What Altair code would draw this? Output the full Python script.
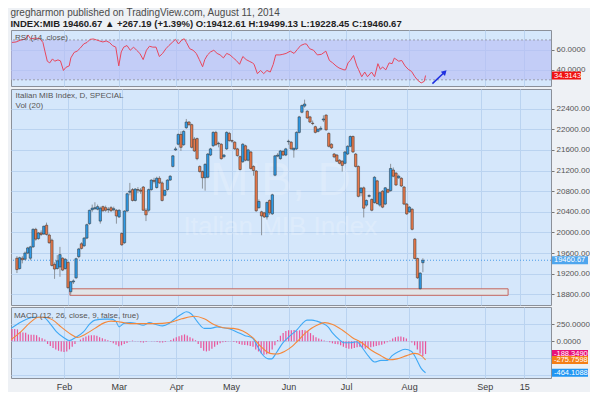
import altair as alt
import pandas as pd

# ---------------- data ----------------
opens = [
19500,19300,19500,19480,19600,19500,19720,20060,19880,19990,
19970,20140,19950,19850,19380,19300,19330,19500,19300,19420,
18850,19040,19120,19530,19780,19740,19890,20170,20440,20460,
20450,20220,20500,20480,20440,20480,20440,20430,20300,19980,
19800,20415,20780,20830,20620,20830,20820,20880,20430,20430,
20830,21010,20870,21050,20960,20720,20830,21015,21280,21600,
21710,21900,21700,22030,22140,22090,21810,21820,21280,21180,
21060,21070,21500,21680,21940,21720,21710,21470,21620,21920,
21780,21750,21620,21470,21370,21680,21400,21560,21280,21190,
20480,20400,20380,20300,20620,20360,21110,21480,21430,21570,
21500,21760,21750,21600,21620,21940,22330,22450,22350,22240,
22120,22050,21960,22000,22180,22275,21920,21710,21520,21500,
21400,21380,21340,21520,21670,21860,21520,21280,20770,20865,
20530,20700,20640,20580,21000,20530,20800,20550,20830,20810,
21210,21150,21060,21050,20880,20550,20400,20450,19870,19495,
18910,19412.61]
highs = [
19540,19530,19540,19630,19720,19740,20080,20090,20010,20040,
20130,20190,19980,19880,19420,19560,19720,19520,19500,19440,
19060,19090,19510,19700,19810,19910,20170,20440,20540,20585,
20540,20500,20520,20520,20490,20510,20500,20450,20450,20000,
20430,20770,20960,20860,20860,20880,20860,20900,20470,20850,
21030,21060,21080,21090,20990,20830,21030,21110,21500,21660,
21920,21960,21980,22200,22160,22110,21850,21840,21300,21200,
21340,21540,21640,21960,21970,21760,21730,21520,21960,21950,
21800,21770,21640,21490,21730,21700,21620,21580,21300,21210,
20640,20420,20400,20600,20640,20750,21500,21540,21600,21600,
21640,21800,21770,21650,21960,22260,22480,22575,22370,22260,
22170,22070,22020,22060,22270,22290,21940,21730,21540,21520,
21420,21400,21580,21690,21880,21880,21540,21300,20880,20890,
20640,20740,20660,21090,21020,20790,20820,20880,20850,21330,
21260,21170,21120,21070,20900,20570,20510,20470,19890,19510,
19230,19499.13]
lows = [
19213,19280,19400,19460,19580,19460,19700,19840,19860,19930,
19950,19940,19780,19340,19100,19280,19140,19250,19280,18900,
18790,19000,19100,19500,19670,19720,19870,20150,20400,20440,
20430,20170,20400,20400,20380,20400,20410,20170,20280,19740,
19780,20400,20720,20600,20600,20760,20750,20420,20220,20400,
20810,20950,20850,20940,20600,20700,20810,21000,21260,21580,
21690,21580,21680,22010,22060,21630,21560,21400,21160,20850,
20810,21050,21480,21660,21680,21650,21410,21440,21600,21760,
21740,21600,21470,21200,21350,21380,21380,21220,21100,20400,
20460,19945,20280,20250,20340,20340,21090,21460,21410,21480,
21480,21700,21600,21450,21600,21920,22310,22420,22200,22120,
22080,21920,21940,21970,22140,21970,21650,21620,21440,21370,
21320,21180,21320,21500,21650,21540,21260,20680,20700,20290,
20500,20680,20410,20560,20540,20500,20470,20530,20760,20790,
21070,20900,21040,20880,20530,20340,20380,20040,19480,19100,
18890,19228.45]
closes = [
19280,19510,19470,19600,19700,19720,20060,19870,19990,19960,
20120,19960,19800,19360,19290,19450,19570,19270,19480,18930,
19045,19060,19490,19680,19690,19890,20150,20430,20470,20480,
20500,20470,20420,20430,20450,20420,20460,20320,20430,19760,
20415,20750,20800,20620,20840,20820,20800,20430,20340,20830,
21015,20990,21050,20960,20620,20815,21015,21090,21485,21620,
21900,21650,21960,22140,22090,21650,21580,21430,21180,21060,
21320,21520,21620,21940,21700,21730,21430,21500,21940,21780,
21770,21620,21490,21220,21710,21400,21600,21240,21200,20420,
20600,20320,20300,20580,20380,20730,21485,21500,21580,21500,
21620,21770,21620,21630,21940,22240,22460,22490,22220,22140,
22110,21940,22000,22020,22200,21990,21670,21640,21465,21380,
21340,21300,21560,21670,21860,21560,21280,20700,20860,20470,
20620,20715,20430,21070,20560,20770,20490,20865,20780,21240,
21090,20920,21090,20900,20550,20360,20490,20060,19495,19120,
19210,19460.67]

rsi_pts = [(0,67.5),(1.5,68),(3.3,70),(5,71),(5.9,75),(6.8,71),(8.6,72),(10.3,71),
(11.3,67.5),(12.1,58),(12.9,48.7),(13.8,47),(14.8,51),(15.6,48.7),(16.8,50),(17.7,49),
(18.8,39.4),(19.7,42.5),(20.9,44),(21.5,52),(22.7,57.5),(23.8,58.8),(25,62),(26.2,66),
(27.4,67.5),(28.5,70.6),(29.7,71),(30.9,70),(32,69),(33.2,68),(34.4,69),(35.6,67.5),
(36.7,64.4),(37.9,62.8),(39,44),(39.9,58),(40.8,62.8),(42,64.4),(43.2,59.7),(44.4,62.8),
(45.5,59.7),(46.7,56.5),(47.9,50.3),(49.1,59.7),(50.2,63.7),(51.4,62.8),(52.6,62.8),
(53.8,53.4),(55,56.5),(56.2,61.2),(57.3,64.4),(58.5,67.5),(59.7,70.6),(60.8,66),(62,70),
(62.9,71.2),(63.7,67.5),(64.9,61.2),(66.1,59.7),(67.3,56.5),(68.4,50.3),(69.6,43.1),
(70.4,50.3),(71.4,55),(72.5,58),(73.7,59.7),(74.9,56.5),(76,55),(77.2,52),(78.4,56.5),
(79.6,55),(80.8,52),(81.9,49.4),(83.1,45.6),(84.3,53.4),(85.5,50.3),(86.6,48.7),(87.8,47),
(88.4,45.6),(89.6,36.2),(90.8,39.4),(91.9,36.2),(93.1,39.4),(94.3,37.8),(95.4,45.6),
(96.3,55),(97.8,55),(98.9,55.6),(100.1,56.5),(101.6,58.8),(103,56.5),(104.2,60.5),
(105.4,64.4),(106.8,66),(107.5,66),(108.7,61.2),(110.1,59.7),(111.5,55),(113,55.6),
(114.6,58.8),(115.9,49.4),(117.1,47),(118.3,44),(119.4,41.9),(121.2,40),(121.8,40),
(122.7,47),(123.5,49.4),(124.7,54.4),(125.9,44),(126.5,40.5),(127.7,33.1),(128.8,37.8),
(129.8,33.1),(131.3,37.8),(132.4,33.1),(133.6,46.2),(134.5,40.5),(135.3,42.9),(136.5,40),
(137.7,47),(138.8,46.2),(139.6,51.8),(141.2,48.7),(142.3,49.4),(143.5,44),(144.7,40.5),
(145.9,38.4),(147.1,33.1),(148.2,29.4),(149.4,26.9),(150.5,28.4),(151,34.3143)]

macd_pts = [(-0.3,189),(3.3,282),(8,353),(11.5,353),(13.9,260),(16.2,141),(19.1,48),
(20.9,10),(23.2,56),(26.2,141),(28.5,260),(30.3,311),(33.8,325),(36.2,325),(37.9,296),
(39.1,212),(40.8,260),(43.2,274),(45.5,260),(47.9,235),(50.2,274),(52.6,246),(55,226),
(57.3,260),(59.7,339),(62,401),(63.7,433),(65.5,401),(67.8,282),(70.2,189),(72.5,189),
(74.9,212),(77.2,198),(79.6,179),(81.9,141),(84.9,85),(87.8,48),(89.6,-73),(91.3,-188),
(93.7,-259),(94.8,-259),(96.6,-165),(98.9,-23),(101.3,71),(104.2,175),(106,260),
(107.7,311),(109.5,311),(111.3,296),(113.6,260),(115.4,212),(117.1,118),(119.5,24),
(121.2,-23),(123.6,-23),(125.9,-8),(127.7,-85),(130,-212),(132.4,-306),(134.7,-282),
(137.1,-282),(138.8,-212),(141.2,-150),(143.5,-118),(145.9,-150),(147.6,-259),
(149.4,-400),(151,-464.1088)]

signal_pts = [(-0.3,24),(3.3,141),(6.8,282),(9.7,353),(12.1,353),(15,311),(17.9,212),
(21.5,104),(23.8,56),(26.8,104),(30.3,189),(33.8,274),(36.2,296),(39.7,282),(43.2,260),
(47.9,260),(52.6,260),(57.3,274),(62,330),(66.7,367),(70.2,330),(73.7,246),(77.2,198),
(80.8,189),(84.3,151),(87.8,56),(91.3,-94),(94.2,-178),(96.6,-188),(99.5,-150),
(102.4,-73),(104.2,0),(107.7,141),(111.3,235),(114.2,274),(117.1,246),(120.6,165),
(124.2,56),(127.7,-23),(131.2,-132),(134.7,-212),(137.7,-273),(140.6,-259),(144.1,-212),
(147.1,-178),(149.4,-212),(151,-275.7598)]

hist_vals = [
180,180,175,135,130,125,100,95,95,90,60,45,25,
-40,-70,-100,-120,-140,-150,-160,-150,-120,-80,-40,
0,25,50,70,85,90,90,80,60,45,30,15,
-10,-30,-50,-75,-60,-40,-25,
5,10,5,-5,-15,-20,-10,
0,5,-5,-10,-20,-20,-10,0,
20,40,60,75,90,100,85,60,40,15,
-40,-100,-140,-150,-140,-110,-80,-50,-30,-15,
-10,-5,-5,-10,
-20,-40,-50,-55,-60,-70,-80,
-120,-150,-180,-200,-190,-170,-120,-60,
20,80,120,150,160,160,165,150,
160,165,160,150,120,90,
60,40,25,10,
-5,-15,-30,-40,-45,
-60,-80,-100,-110,-110,-100,-90,-80,
-95,-110,-100,-90,-80,-70,-60,-50,-35,-15,
10,40,60,70,70,60,40,
5,-20,
-60,-120,-180,-220,-188.349]

tick_pos = [19, 39, 60, 80, 101, 122, 145, 172.6, 187]
tick_lab = ["Feb", "Mar", "Apr", "May", "Jun", "Jul", "Aug", "Sep", "15"]

price_ticks = [18800, 19200, 19600, 20000, 20400, 20800, 21200, 21600, 22000, 22400]
rsi_ticks = [40, 60]
macd_ticks = [-500, -250, 0, 250]
macd_shown = [0, 250]          # the other MACD tick labels sit under the value boxes
rsi_band = [30, 70]

support_x = [19.7, 182.7]
support_y = [18781, 18907]

arrow_x = [153.5, 158]
arrow_y = [26.2, 37.8]

last_close = 19460.67
rsi_labels = [(34.3143, "34.3143", "#f01010")]
price_labels = [(19460.67, "19460.67", "#4fa6ee")]
macd_labels = [(-188.349, "-188.3490", "#e8107a"), (-275.7598, "-275.7598", "#f57f17"),
               (-464.1088, "-464.1088", "#2196f3")]

watermark = [("MIB, D", 98, 20990, 46), ("Italian MIB Index", 98, 20110, 26)]

# ---------------- layout constants ----------------
W = 540
H_RSI, H_PRICE, H_MACD = 56, 216, 71
X_DOM = [-0.35, 196.8]
RSI_DOM = [23.8, 80]
PRICE_DOM = [18593, 22781]
MACD_DOM = [-541, 504]
FONT = "Liberation Sans"
BOX_H = 8.0

xs = alt.Scale(domain=X_DOM, nice=False, zero=False)


def lab_expr():
    s = ""
    for p, t in zip(tick_pos, tick_lab):
        s += f"abs(datum.value - {p}) < 0.01 ? '{t}' : "
    return s + "''"


def xax(show=False):
    common = dict(values=tick_pos, title=None, grid=True, ticks=False, domain=False,
                  labelOverlap=False)
    if show:
        return alt.Axis(labels=True, labelExpr=lab_expr(), labelFontSize=9,
                        labelColor="#3c3c3c", labelPadding=4, labelFlush=False,
                        labelFont=FONT, **common)
    return alt.Axis(labels=False, **common)


def yax(values, fmt, shown=None):
    kw = dict(orient="right", values=values, format=fmt, title=None, grid=True,
              labelFontSize=8, labelColor="#555555", tickSize=3, tickColor="#777777",
              domain=False, labelPadding=2, labelOverlap=False, labelFont=FONT, zindex=0)
    if shown is not None:
        cond = " || ".join(f"datum.value == {v}" for v in shown)
        kw["labelExpr"] = f"({cond}) ? datum.label : ''"
    return alt.Axis(**kw)


def value_boxes(items, yscale, yaxis, width=36):
    df = pd.DataFrame(items, columns=["v", "t", "c"])
    r = width
    hh = (BOX_H / 2) / r
    path = f"M0,-{hh:.4f}L1,-{hh:.4f}L1,{hh:.4f}L0,{hh:.4f}Z"
    box = alt.Chart(df).mark_point(shape=path, filled=True, size=(2 * r) ** 2,
                                   strokeWidth=0, opacity=1).encode(
        x=alt.value(W + 1),
        y=alt.Y("v:Q", scale=yscale, axis=yaxis),
        color=alt.Color("c:N", scale=None),
    )
    txt = alt.Chart(df).mark_text(align="left", baseline="middle", fontSize=7.5,
                                  color="white", font=FONT).encode(
        x=alt.value(W + 3),
        y=alt.Y("v:Q", scale=yscale, axis=yaxis),
        text="t:N",
    )
    return [box, txt]


def panel_title(text, offset, subtitle=None):
    kw = dict(text=text, anchor="start", fontSize=8, color="#555555", fontWeight="normal",
              offset=offset, dx=5, font=FONT)
    if subtitle:
        kw.update(subtitle=subtitle, subtitleFontSize=8, subtitleColor="#555555",
                  subtitlePadding=2, subtitleFont=FONT)
    return alt.TitleParams(**kw)


# ---------------- RSI panel ----------------
rsi_ys = alt.Scale(domain=RSI_DOM, nice=False, zero=False)
RX = xax()
RY = yax(rsi_ticks, ".4f")
rsi_df = pd.DataFrame(rsi_pts, columns=["i", "v"])
band_df = pd.DataFrame({"lo": [rsi_band[0]], "hi": [rsi_band[1]],
                        "x1": [X_DOM[0]], "x2": [X_DOM[1]]})
lev_df = pd.DataFrame({"v": rsi_band})
arrow_df = pd.DataFrame({"i": arrow_x, "v": arrow_y})

rsi_band_layer = alt.Chart(band_df).mark_rect(color="#b8bdf5", opacity=0.6).encode(
    x=alt.X("x1:Q", scale=xs, axis=RX), x2="x2:Q",
    y=alt.Y("lo:Q", scale=rsi_ys, axis=RY), y2="hi:Q")
rsi_levels = alt.Chart(lev_df).mark_rule(color="#9a9cae", strokeDash=[2, 2],
                                          strokeWidth=1).encode(
    y=alt.Y("v:Q", scale=rsi_ys, axis=RY))
rsi_line = alt.Chart(rsi_df).mark_line(color="#e8475e", strokeWidth=1).encode(
    x=alt.X("i:Q", scale=xs, axis=RX), y=alt.Y("v:Q", scale=rsi_ys, axis=RY))
arrow_line = alt.Chart(arrow_df).mark_line(color="#1f2fe0", strokeWidth=1.5).encode(
    x=alt.X("i:Q", scale=xs, axis=RX), y=alt.Y("v:Q", scale=rsi_ys, axis=RY))
arrow_head = alt.Chart(arrow_df.tail(1)).mark_point(shape="triangle-up", filled=True,
                                                    size=35, angle=45, color="#1f2fe0",
                                                    opacity=1).encode(
    x=alt.X("i:Q", scale=xs, axis=RX), y=alt.Y("v:Q", scale=rsi_ys, axis=RY))

rsi_chart = alt.layer(rsi_band_layer, rsi_levels, rsi_line, arrow_line, arrow_head,
                      *value_boxes(rsi_labels, rsi_ys, RY, width=29)).properties(
    width=W, height=H_RSI, title=panel_title("RSI (14, close)", -12))

# ---------------- price panel ----------------
py = alt.Scale(domain=PRICE_DOM, nice=False, zero=False)
PX = xax()
PY = yax(price_ticks, ".2f")
n = len(closes)
candles = pd.DataFrame({"i": list(range(n)), "o": opens, "h": highs, "l": lows, "c": closes})
candles["dir"] = ["up" if c >= o else "down" for o, c in zip(opens, closes)]

wm_df = pd.DataFrame(watermark, columns=["t", "i", "v", "fs"])
wm = alt.Chart(wm_df).mark_text(color="white", opacity=0.2, font=FONT,
                                baseline="middle").encode(
    x=alt.X("i:Q", scale=xs, axis=PX),
    y=alt.Y("v:Q", scale=py, axis=PY),
    text="t:N", size=alt.Size("fs:Q", scale=None))

sup_df = pd.DataFrame({"x1": [support_x[0]], "x2": [support_x[1]],
                       "y1": [support_y[0]], "y2": [support_y[1]]})
support = alt.Chart(sup_df).mark_rect(fill="#e2e5e8", stroke="#c4655e",
                                      strokeWidth=1).encode(
    x=alt.X("x1:Q", scale=xs, axis=PX), x2="x2:Q",
    y=alt.Y("y1:Q", scale=py, axis=PY), y2="y2:Q")

last_df = pd.DataFrame({"v": [last_close]})
last_line = alt.Chart(last_df).mark_rule(color="#4a9be8", strokeDash=[1, 2],
                                         strokeWidth=1).encode(
    y=alt.Y("v:Q", scale=py, axis=PY))

wicks = alt.Chart(candles).mark_rule(color="#8d949c", strokeWidth=1).encode(
    x=alt.X("i:Q", scale=xs, axis=PX), y=alt.Y("l:Q", scale=py, axis=PY), y2="h:Q")
bodies = alt.Chart(candles).mark_bar(size=2.4, stroke="#2c2c2c", strokeWidth=0.5).encode(
    x=alt.X("i:Q", scale=xs, axis=PX), y=alt.Y("o:Q", scale=py, axis=PY), y2="c:Q",
    color=alt.Color("dir:N", scale=alt.Scale(domain=["up", "down"],
                                             range=["#2e9be8", "#e9794a"]), legend=None))

price_chart = alt.layer(wm, support, last_line, wicks, bodies,
                        *value_boxes(price_labels, py, PY)).properties(
    width=W, height=H_PRICE,
    title=panel_title("Italian MIB Index, D, SPECIAL", -21, subtitle="Vol (20)"))

# ---------------- MACD panel ----------------
my = alt.Scale(domain=MACD_DOM, nice=False, zero=False)
MX = xax(show=True)
MY = yax(macd_ticks, ".4f", shown=macd_shown)
hist_df = pd.DataFrame({"i": list(range(len(hist_vals))), "h": hist_vals,
                        "z": [0] * len(hist_vals)})
macd_df = pd.DataFrame(macd_pts, columns=["i", "v"])
sig_df = pd.DataFrame(signal_pts, columns=["i", "v"])

hist = alt.Chart(hist_df).mark_rule(color="#e9559b", strokeWidth=1.2).encode(
    x=alt.X("i:Q", scale=xs, axis=MX),
    y=alt.Y("h:Q", scale=my, axis=MY), y2="z:Q")
macd_line = alt.Chart(macd_df).mark_line(color="#3fa9f5", strokeWidth=1.1,
                                         interpolate="monotone").encode(
    x=alt.X("i:Q", scale=xs, axis=MX), y=alt.Y("v:Q", scale=my, axis=MY))
sig_line = alt.Chart(sig_df).mark_line(color="#f5883a", strokeWidth=1.1,
                                       interpolate="monotone").encode(
    x=alt.X("i:Q", scale=xs, axis=MX), y=alt.Y("v:Q", scale=my, axis=MY))

macd_chart = alt.layer(hist, macd_line, sig_line,
                       *value_boxes(macd_labels, my, MY)).properties(
    width=W, height=H_MACD,
    title=panel_title("MACD (12, 26, close, 9, false, true)", -13))

# ---------------- assemble ----------------
chart = alt.vconcat(rsi_chart, price_chart, macd_chart, spacing=0).properties(
    title=alt.TitleParams(
        text="gregharmon published on TradingView.com, August 11, 2014",
        subtitle="INDEX:MIB 19460.67 \u25b2 +267.19 (+1.39%)  O:19412.61  H:19499.13  L:19228.45  C:19460.67",
        anchor="start", fontSize=10, color="#4a4a4a", fontWeight="normal", font=FONT,
        subtitleFontSize=9.5, subtitleColor="#1e1e1e", subtitleFontWeight="bold",
        subtitleFont=FONT, subtitlePadding=1, offset=1, dx=2),
    padding={"left": 0, "top": 0, "right": 0, "bottom": 0},
).configure(background="#eef1f5", font=FONT).configure_view(
    fill="#d5e7fb", stroke="#8b9099", strokeWidth=1
).configure_axis(gridColor="#bad3f0", gridWidth=1, labelOverlap=False)

chart.save("out.html", embed_options={"renderer": "svg", "actions": False})
